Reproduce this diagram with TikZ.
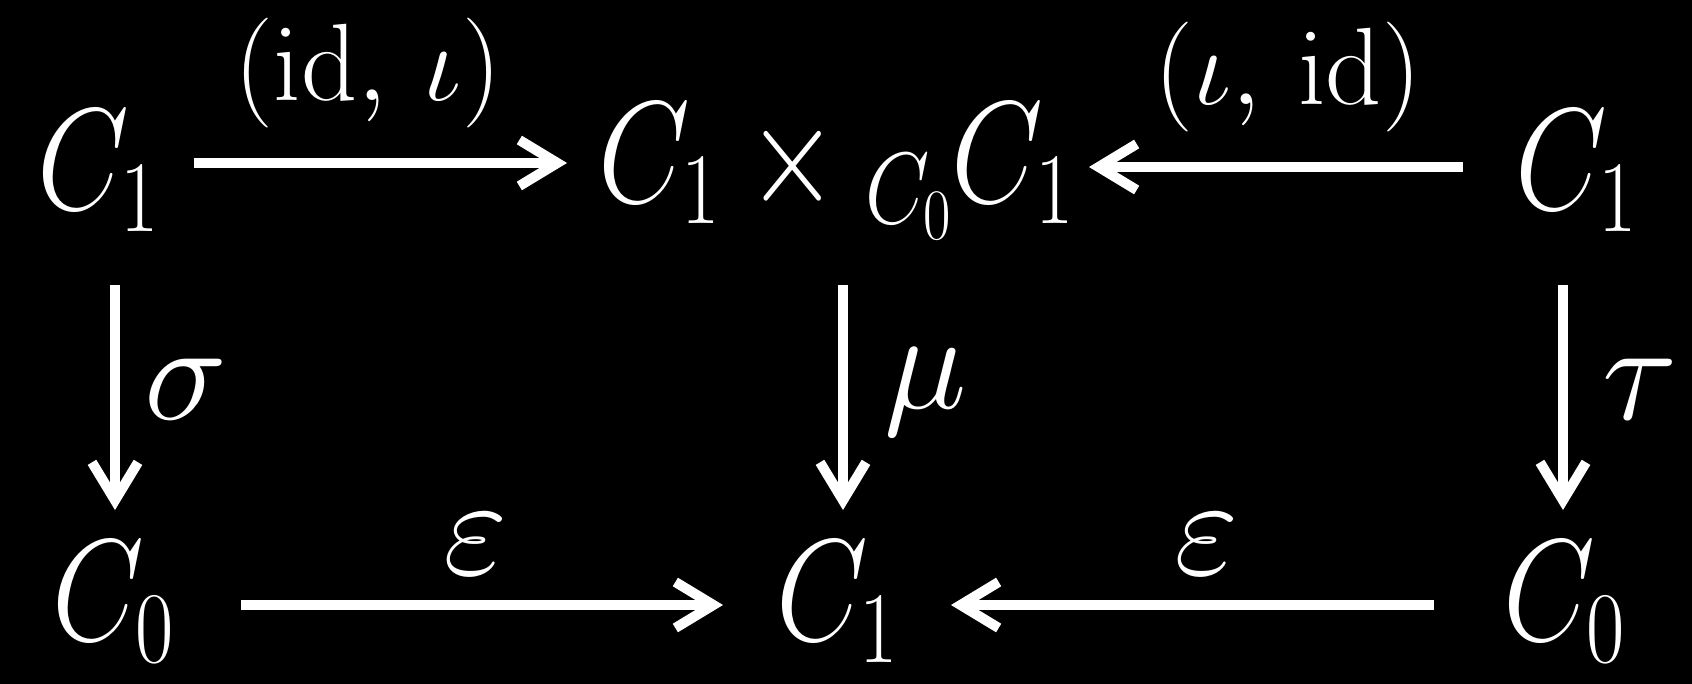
\RequirePackage{fix-cm}
\documentclass[tikz,border=0pt]{standalone}
\usetikzlibrary{arrows.meta}
\newcommand{\objtext}[1]{\scalebox{0.82}[1]{$#1$}}
\begin{document}
\begin{tikzpicture}[x=1pt,y=-1pt,
  obj/.style={text=white,inner sep=0pt,font=\fontsize{145}{170}\selectfont},
  lbl/.style={text=white,inner sep=0pt,font=\fontsize{140}{160}\selectfont},
  plbl/.style={text=white,inner sep=0pt,font=\fontsize{110}{130}\selectfont},
  arr/.style={draw=white,line width=10pt,-{Straight Barb[length=38pt,width=46pt]}}]
\fill[black] (0,0) rectangle (1692,684);
% objects
\node[obj] (tl) at (98,171) {\objtext{C_1}};
\node[obj] (pr) at (836,171) {\objtext{C_1\times{}_{C_0}C_1}};
\node[obj] (tr) at (1576,171) {\objtext{C_1}};
\node[obj] (bl) at (113,602) {\objtext{C_0}};
\node[obj] (bm) at (837,602) {\objtext{C_1}};
\node[obj] (br) at (1564,602) {\objtext{C_0}};
% labels
\node[plbl] (l1) at (368,73) {$(\mathrm{id},\,\iota)$};
\node[plbl] (l2) at (1288,77) {$(\iota,\,\mathrm{id})$};
\node[lbl] (ls) at (186,389) {$\sigma$};
\node[lbl] (lm) at (926,392) {$\mu$};
\node[lbl] (lt) at (1640,389) {$\tau$};
\node[lbl] (le1) at (476,544) {$\varepsilon$};
\node[lbl] (le2) at (1207,544) {$\varepsilon$};
% arrows
\draw[arr,shorten <=96pt,shorten >=269pt] ([yshift=8pt]tl.center) -- ([yshift=8pt]pr.center);
\draw[arr,shorten <=113pt,shorten >=253pt] ([yshift=4pt]tr.center) -- ([yshift=4pt]pr.center);
\draw[arr,shorten <=114pt,shorten >=92pt] ([xshift=17pt]tl.center) -- ([xshift=17pt]tl.center |- bl.center);
\draw[arr,shorten <=114pt,shorten >=92pt] ([xshift=7pt]pr.center) -- ([xshift=7pt]pr.center |- bm.center);
\draw[arr,shorten <=114pt,shorten >=92pt] ([xshift=-13pt]tr.center) -- ([xshift=-13pt]tr.center |- br.center);
\draw[arr,shorten <=128pt,shorten >=114pt] ([yshift=-3pt]bl.center) -- ([yshift=-3pt]bm.center);
\draw[arr,shorten <=130pt,shorten >=114pt] ([yshift=-3pt]br.center) -- ([yshift=-3pt]bm.center);
\end{tikzpicture}
\end{document}
